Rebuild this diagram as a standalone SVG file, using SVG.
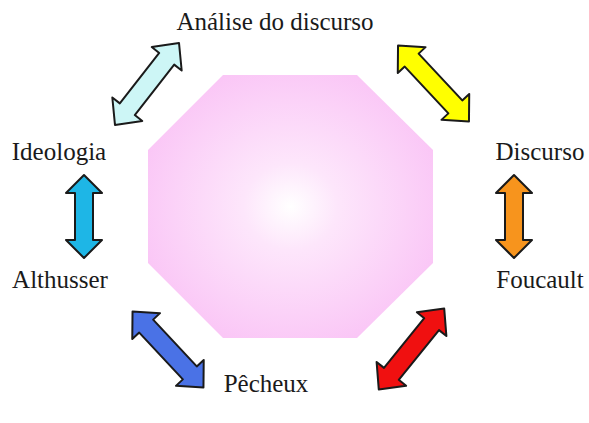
<svg xmlns="http://www.w3.org/2000/svg" width="589" height="423" viewBox="0 0 589 423">
<style>
  .lbl { font-family: "Liberation Serif", "Times New Roman", serif; font-size: 25px; fill: #1a1a1a; text-anchor: middle; }
  .arr { stroke: #1a1a1a; stroke-width: 2; stroke-linejoin: round; }
</style>
<defs>
  <radialGradient id="pinkGrad" cx="0.5" cy="0.5" r="0.55">
    <stop offset="0" stop-color="#ffffff"/>
    <stop offset="0.3" stop-color="#fde6fb"/>
    <stop offset="1" stop-color="#fac6f6"/>
  </radialGradient>
  <path id="diagArrow" d="M-52,0 L-32,-19 L-32,-9.5 L32,-9.5 L32,-19 L52,0 L32,19 L32,9.5 L-32,9.5 L-32,19 Z"/>
  <path id="vertArrow" d="M0,-41.5 L18,-23.5 L9,-23.5 L9,23.5 L18,23.5 L0,41.5 L-18,23.5 L-9,23.5 L-9,-23.5 L-18,-23.5 Z"/>
</defs>
<rect width="589" height="423" fill="#ffffff"/>
<g id="center">
  <polygon points="223,75 357,75 433,150 433,263 357,338 223,338 148,263 148,150" fill="url(#pinkGrad)"/>
</g>
<g id="connectors">
  <use href="#diagArrow" class="arr" fill="#cdf6f6" transform="translate(147,84) rotate(-52)"/>
  <use href="#diagArrow" class="arr" fill="#ffff00" transform="translate(433.5,83.5) rotate(47)"/>
  <use href="#vertArrow" class="arr" fill="#1eb6e6" transform="translate(84,216.5)"/>
  <use href="#vertArrow" class="arr" fill="#f7941d" transform="translate(514,216.5)"/>
  <use href="#diagArrow" class="arr" fill="#4a72e6" transform="translate(168,349.5) rotate(47)"/>
  <use href="#diagArrow" class="arr" fill="#f01010" transform="translate(411.5,349) rotate(-51)"/>
</g>
<g id="analise"><text class="lbl" x="275" y="30">Análise do discurso</text></g>
<g id="ideologia"><text class="lbl" x="59" y="160">Ideologia</text></g>
<g id="discurso"><text class="lbl" x="540" y="160">Discurso</text></g>
<g id="althusser"><text class="lbl" x="60" y="288">Althusser</text></g>
<g id="foucault"><text class="lbl" x="540" y="288">Foucault</text></g>
<g id="pecheux"><text class="lbl" x="266" y="392">Pêcheux</text></g>
</svg>
